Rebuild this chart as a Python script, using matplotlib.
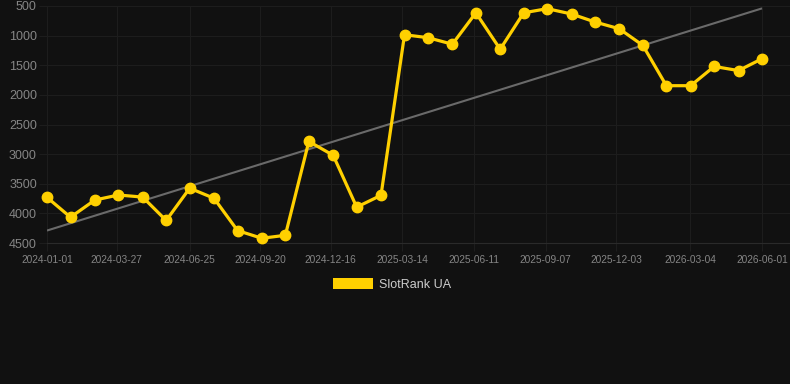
import matplotlib
matplotlib.use("Agg")
import matplotlib.pyplot as plt
from matplotlib.patches import Rectangle
import pandas as pd

plt.rcParams['font.family'] = ['Liberation Sans', 'DejaVu Sans']

# ---- data ----
dates = ["2024-01-01", "2024-01-30", "2024-02-29", "2024-03-29", "2024-04-28",
         "2024-05-27", "2024-06-25", "2024-07-25", "2024-08-23", "2024-09-22",
         "2024-10-21", "2024-11-19", "2024-12-19", "2025-01-17", "2025-02-16",
         "2025-03-17", "2025-04-15", "2025-05-15", "2025-06-13", "2025-07-13",
         "2025-08-11", "2025-09-09", "2025-10-09", "2025-11-07", "2025-12-07",
         "2026-01-05", "2026-02-03", "2026-03-05", "2026-04-03", "2026-05-03",
         "2026-06-01"]
rank = [3730, 4065, 3775, 3690, 3725, 4120, 3575, 3745, 4290, 4420,
        4370, 2785, 3020, 3895, 3695, 985, 1035, 1145, 615, 1230,
        615, 545, 635, 770, 885, 1165, 1845, 1845, 1520, 1590,
        1390]
trend_dates = ["2024-01-01", "2026-06-01"]
trend_values = [4290, 540]
tick_labels = ["2024-01-01", "2024-03-27", "2024-06-25", "2024-09-20", "2024-12-16",
               "2025-03-14", "2025-06-11", "2025-09-07", "2025-12-03", "2026-03-04",
               "2026-06-01"]
y_ticks = [500, 1000, 1500, 2000, 2500, 3000, 3500, 4000, 4500]
series_name = "SlotRank UA"

# ---- styling ----
W, H = 790, 384
bg = "#111111"
grid_c = "#1d1d1d"
line_c = "#FFD000"
label_c = "#858585"

fig = plt.figure(figsize=(W / 100, H / 100), dpi=100, facecolor=bg)
left, right, top, bottom = 47, 790, 6, 243
ax = fig.add_axes([left / W, 1 - bottom / H, (right - left) / W, (bottom - top) / H])
ax.set_facecolor(bg)

x = pd.to_datetime(dates)
tx = pd.to_datetime(trend_dates)

ax.plot(tx, trend_values, color="#6a6a6a", lw=1.5, zorder=2, solid_capstyle="butt")
ax.plot(x, rank, color=line_c, lw=2.3, marker="o", ms=7.5, mfc=line_c, mec=line_c,
        zorder=3, clip_on=False)

ax.set_ylim(4500, 500)
ax.set_yticks(y_ticks)
ax.set_yticklabels([str(v) for v in y_ticks])

ticks = pd.to_datetime(tick_labels)
ax.set_xticks(ticks)
ax.set_xticklabels(tick_labels)
x0 = pd.Timestamp("2024-01-01")
x1 = pd.Timestamp("2026-06-01") + pd.Timedelta(days=34.5)
ax.set_xlim(x0, x1)

ax.grid(True, color=grid_c, lw=0.8)
ax.set_axisbelow(True)
for s in ["top", "right", "left"]:
    ax.spines[s].set_visible(False)
ax.spines["bottom"].set_color("#2a2a2a")
ax.spines["bottom"].set_linewidth(0.8)

ax.tick_params(axis="y", length=5.8, width=0.8, color=grid_c, labelcolor=label_c,
               labelsize=9, pad=1.5)
ax.tick_params(axis="x", length=5.8, width=0.8, color=grid_c, labelcolor=label_c,
               labelsize=7.3, pad=3)

# legend
fig.add_artist(Rectangle((333 / W, 1 - 289 / H), 40 / W, 11 / H,
                         transform=fig.transFigure, facecolor=line_c, edgecolor="none"))
fig.text(379 / W, 1 - 284.5 / H, series_name, color="#cccccc", fontsize=9,
         ha="left", va="center")

fig.savefig("out.png", dpi=100, facecolor=bg)
